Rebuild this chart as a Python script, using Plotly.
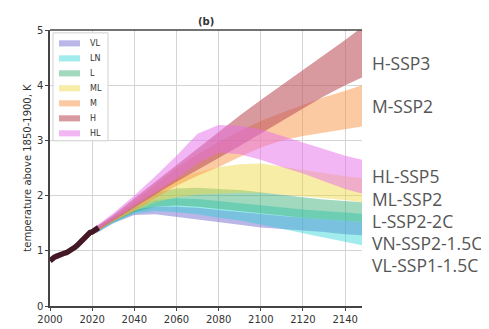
import plotly.graph_objects as go

# ---------------- data ----------------
hist_years = list(range(2000, 2024))
hist_temp = [0.82, 0.86, 0.88, 0.90, 0.92, 0.93, 0.95, 0.96, 0.97, 0.99, 1.02, 1.05,
             1.07, 1.10, 1.14, 1.19, 1.24, 1.27, 1.30, 1.33, 1.34, 1.37, 1.40, 1.42]

years = [2022, 2030, 2040, 2050, 2060, 2070, 2080, 2090, 2100, 2110, 2120, 2130, 2140, 2148]

vl_low = [1.32, 1.50, 1.65, 1.66, 1.61, 1.57, 1.52, 1.47, 1.42, 1.40, 1.37, 1.34, 1.30, 1.28]
vl_high = [1.42, 1.58, 1.75, 1.80, 1.80, 1.78, 1.74, 1.70, 1.66, 1.63, 1.60, 1.57, 1.54, 1.52]

ln_low = [1.33, 1.50, 1.67, 1.72, 1.70, 1.66, 1.60, 1.55, 1.48, 1.40, 1.32, 1.24, 1.16, 1.10]
ln_high = [1.42, 1.60, 1.80, 1.92, 1.95, 1.94, 1.90, 1.86, 1.82, 1.78, 1.75, 1.72, 1.69, 1.67]

l_low = [1.34, 1.52, 1.70, 1.80, 1.82, 1.80, 1.77, 1.72, 1.68, 1.64, 1.60, 1.57, 1.54, 1.52]
l_high = [1.42, 1.60, 1.85, 2.05, 2.13, 2.14, 2.12, 2.10, 2.06, 2.01, 1.97, 1.93, 1.90, 1.88]

ml_low = [1.35, 1.53, 1.72, 1.88, 1.97, 2.02, 2.04, 2.05, 2.05, 2.02, 1.98, 1.95, 1.92, 1.88]
ml_high = [1.42, 1.62, 1.88, 2.12, 2.30, 2.42, 2.52, 2.57, 2.58, 2.52, 2.46, 2.40, 2.35, 2.32]

m_low = [1.35, 1.53, 1.73, 1.95, 2.18, 2.36, 2.52, 2.70, 2.87, 3.00, 3.08, 3.15, 3.20, 3.25]
m_high = [1.42, 1.62, 1.90, 2.20, 2.50, 2.75, 2.97, 3.17, 3.35, 3.50, 3.64, 3.78, 3.90, 4.00]

h_low = [1.36, 1.55, 1.78, 2.02, 2.25, 2.47, 2.68, 2.90, 3.12, 3.35, 3.58, 3.80, 4.00, 4.14]
h_high = [1.44, 1.65, 1.95, 2.25, 2.55, 2.85, 3.15, 3.45, 3.73, 4.00, 4.27, 4.55, 4.82, 5.05]

hl_low = [1.37, 1.56, 1.80, 2.05, 2.30, 2.58, 2.78, 2.75, 2.65, 2.52, 2.40, 2.26, 2.12, 2.04]
hl_high = [1.45, 1.68, 2.00, 2.35, 2.72, 3.12, 3.28, 3.26, 3.20, 3.08, 2.95, 2.83, 2.72, 2.65]

scenario_names = ["VL", "LN", "L", "ML", "M", "H", "HL"]
scenario_bands = [(vl_low, vl_high), (ln_low, ln_high), (l_low, l_high), (ml_low, ml_high),
                  (m_low, m_high), (h_low, h_high), (hl_low, hl_high)]
scenario_colors = ["rgba(120,110,210,0.5)", "rgba(30,210,210,0.42)", "rgba(46,170,110,0.45)",
                   "rgba(240,215,60,0.45)", "rgba(250,150,70,0.5)", "rgba(190,85,95,0.6)",
                   "rgba(230,110,235,0.5)"]

side_labels = ["H-SSP3", "M-SSP2", "HL-SSP5", "ML-SSP2", "L-SSP2-2C", "VN-SSP2-1.5C", "VL-SSP1-1.5C"]
side_label_y = [4.41, 3.62, 2.35, 1.94, 1.54, 1.14, 0.74]

x_ticks = [2000, 2020, 2040, 2060, 2080, 2100, 2120, 2140]
y_ticks = [0, 1, 2, 3, 4, 5]

# ---------------- figure ----------------
W, H = 489, 329
ML_, MR_, MT_, MB_ = 42, 135, 22, 18
PW = W - ML_ - MR_
PH = H - MT_ - MB_


def px_to_paper_x(px):
    return (px - ML_) / PW


def px_to_paper_y(py):
    return (H - MB_ - py) / PH


fig = go.Figure()

for name, (lo, hi), col in zip(scenario_names, scenario_bands, scenario_colors):
    fig.add_trace(go.Scatter(
        x=years + years[::-1],
        y=hi + lo[::-1],
        fill="toself",
        fillcolor=col,
        line=dict(width=0, color=col),
        mode="lines",
        name=name,
        hoverinfo="skip",
        showlegend=False,
    ))

fig.add_trace(go.Scatter(
    x=hist_years, y=hist_temp, mode="lines",
    line=dict(color="#451826", width=5.5),
    showlegend=False, hoverinfo="skip",
))

# side labels
for txt, yy in zip(side_labels, side_label_y):
    fig.add_annotation(
        x=px_to_paper_x(362), xref="paper", y=yy, yref="y", text=txt, showarrow=False,
        xanchor="left", yanchor="middle",
        font=dict(family="Open Sans, sans-serif", size=17.5, color="#555555"),
    )

# title
fig.add_annotation(
    x=0.5, xref="paper", y=1.0, yref="paper", yanchor="bottom", text="<b>(b)</b>",
    showarrow=False, font=dict(family="DejaVu Sans", size=10, color="#333333"), yshift=1,
)

# manual legend (box, swatches, labels)
fig.add_shape(type="rect", xref="paper", yref="paper",
              x0=px_to_paper_x(45), x1=px_to_paper_x(100),
              y0=px_to_paper_y(138), y1=px_to_paper_y(25),
              fillcolor="rgba(255,255,255,0.92)", line=dict(color="#d0d0d0", width=1), layer="above")
for i, (name, col) in enumerate(zip(scenario_names, scenario_colors)):
    cy = 36 + i * 15.7
    fig.add_shape(type="rect", xref="paper", yref="paper",
                  x0=px_to_paper_x(51), x1=px_to_paper_x(72),
                  y0=px_to_paper_y(cy + 3.2), y1=px_to_paper_y(cy - 3.2),
                  fillcolor=col, line=dict(width=0), layer="above")
    fig.add_annotation(x=px_to_paper_x(80), xref="paper", y=px_to_paper_y(cy), yref="paper",
                       text=name, showarrow=False, xanchor="left", yanchor="middle",
                       font=dict(family="DejaVu Sans", size=8, color="#333333"))

axis_font = dict(family="DejaVu Sans", size=10, color="#333333")

fig.update_xaxes(
    range=[2000, 2148], tickvals=x_ticks, showgrid=True, gridcolor="#d4d4d4", gridwidth=1,
    showline=True, linecolor="#444444", linewidth=1.5, mirror=False,
    ticks="outside", ticklen=3, tickcolor="#444444", tickfont=axis_font, zeroline=False,
)
fig.update_yaxes(
    range=[0, 5], tickvals=y_ticks, showgrid=True, gridcolor="#d4d4d4", gridwidth=1,
    showline=True, linecolor="#444444", linewidth=1.5, mirror=False,
    ticks="outside", ticklen=3, tickcolor="#444444", tickfont=axis_font, zeroline=False,
    title=dict(text="temperature above 1850-1900, K",
               font=dict(family="DejaVu Sans", size=10, color="#333333"), standoff=3),
)

# top spine
fig.add_shape(type="line", xref="paper", yref="paper", x0=0, x1=1, y0=1, y1=1,
              line=dict(color="#444444", width=1.5))

fig.update_layout(
    width=W, height=H,
    margin=dict(l=ML_, r=MR_, t=MT_, b=MB_),
    paper_bgcolor="white", plot_bgcolor="white",
    showlegend=False,
)

fig.write_html("out.html")
